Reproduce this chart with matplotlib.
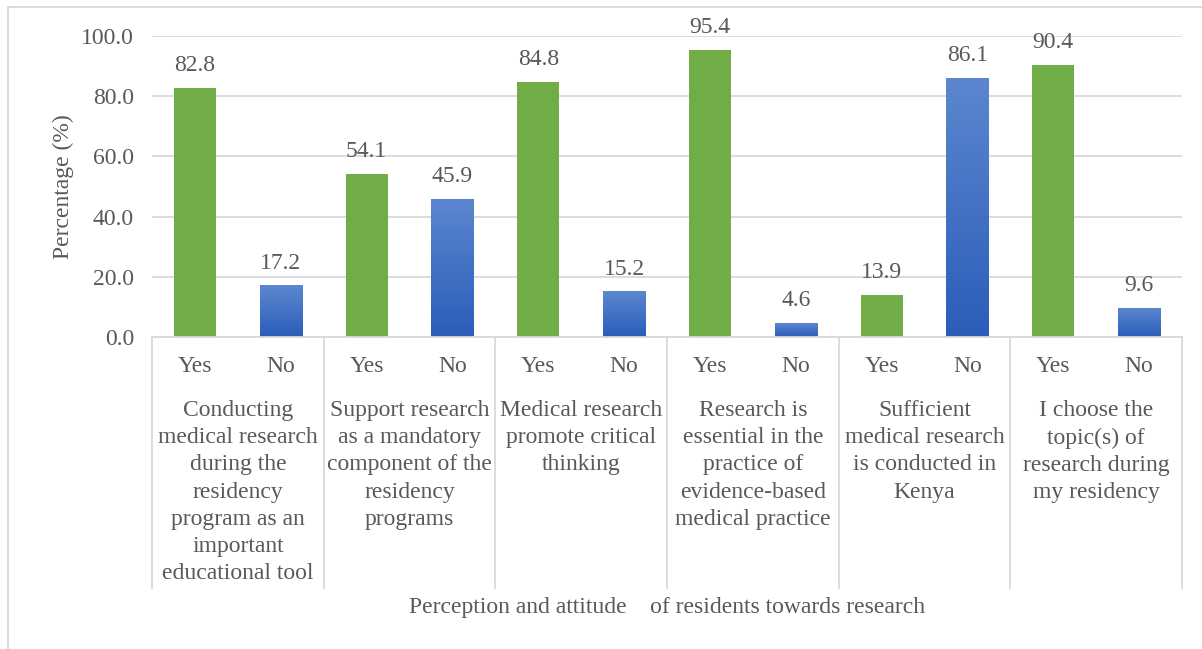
import numpy as np
import matplotlib
matplotlib.use("Agg")
import matplotlib.pyplot as plt
from matplotlib.lines import Line2D
from matplotlib.colors import LinearSegmentedColormap

# --- DATA ---
statements = [
    "Conducting\nmedical research\nduring the\nresidency\nprogram as an\nimportant\neducational tool",
    "Support research\nas a mandatory\ncomponent of the\nresidency\nprograms",
    "Medical research\npromote critical\nthinking",
    "Research is\nessential in the\npractice of\nevidence-based\nmedical practice",
    "Sufficient\nmedical research\nis conducted in\nKenya",
    "I choose the\ntopic(s) of\nresearch during\nmy residency",
]
answers = ["Yes", "No"]
yes_pct = [82.8, 54.1, 84.8, 95.4, 13.9, 90.4]
no_pct = [17.2, 45.9, 15.2, 4.6, 86.1, 9.6]
yticks = [0, 20, 40, 60, 80, 100]
xlabel = "Perception and attitude    of residents towards research"
ylabel = "Percentage (%)"

# --- STYLE ---
TXT = "#595959"
GRID = "#D9D9D9"
GREEN = "#70AD47"
plt.rcParams['font.family'] = ['Liberation Serif', 'DejaVu Serif']
FS = 17

W, H = 1202, 649
fig = plt.figure(figsize=(W / 100, H / 100), dpi=100)

# plot area in pixels
x0, x1 = 152, 1182
y_top, y_bot = 36, 337
ax = fig.add_axes([x0 / W, 1 - y_bot / H, (x1 - x0) / W, (y_bot - y_top) / H])

n = len(statements)
vals = []
for y, no in zip(yes_pct, no_pct):
    vals += [y, no]
pos = np.arange(2 * n)

bar_w = 0.49
bars = ax.bar(pos, vals, width=bar_w, color=[GREEN, "none"] * n, zorder=3)

# gradient fill for the "No" bars
blue_cmap = LinearSegmentedColormap.from_list("blu", ["#2B5DB9", "#5C87CF"])
grad = np.linspace(0, 1, 256).reshape(-1, 1)
for i, b in enumerate(bars):
    if i % 2 == 1:
        im = ax.imshow(grad, cmap=blue_cmap, origin="lower", aspect="auto",
                       extent=[b.get_x(), b.get_x() + b.get_width(), 0, b.get_height()],
                       zorder=3)
        im.set_clip_path(b)

for p, v in zip(pos, vals):
    ax.annotate(f"{v:.1f}", (p, v), xytext=(0, 16), textcoords="offset points",
                ha="center", va="center", fontsize=FS, color=TXT, zorder=4,
                annotation_clip=False)

ax.set_xlim(-0.5, 2 * n - 0.5)
ax.set_ylim(0, 100)
ax.set_yticks(yticks)
ax.set_yticklabels([f"{t:.1f}" for t in yticks])
ax.tick_params(axis="y", length=0, pad=13, labelsize=FS, labelcolor=TXT)
ax.set_xticks([])
ax.grid(axis="y", color=GRID, linewidth=1.3, zorder=0)
for s in ["top", "right", "left"]:
    ax.spines[s].set_visible(False)
ax.spines["bottom"].set_color(GRID)
ax.spines["bottom"].set_linewidth(1.3)
ax.spines["bottom"].set_zorder(5)

ax.set_ylabel(ylabel, fontsize=FS, color=TXT, labelpad=5)

# multi-level category axis
ax_h = y_bot - y_top
def ay(px):
    return (y_bot - px) / ax_h

trans = ax.get_xaxis_transform()
for g in range(n + 1):
    xs = g * 2 - 0.5
    ax.add_line(Line2D([xs, xs], [0, ay(588)], transform=trans, color=GRID,
                       linewidth=1.3, clip_on=False))
for p in pos:
    ax.text(p, ay(367), answers[p % 2], transform=trans, ha="center", va="center",
            fontsize=FS, color=TXT)
for g, lab in enumerate(statements):
    ax.text(2 * g + 0.5, ay(400), lab, transform=trans, ha="center", va="top",
            fontsize=FS, color=TXT, linespacing=1.39)

fig.text(667 / W, 1 - 608 / H, xlabel, ha="center", va="center", fontsize=FS, color=TXT)

# chart border (top and left visible)
fig.add_artist(Line2D([8 / W, 1], [1 - 7 / H, 1 - 7 / H], transform=fig.transFigure,
                      color=GRID, linewidth=1.3))
fig.add_artist(Line2D([8 / W, 8 / W], [1 - 7 / H, 0], transform=fig.transFigure,
                      color=GRID, linewidth=1.3))

fig.savefig("out.png", dpi=100)
